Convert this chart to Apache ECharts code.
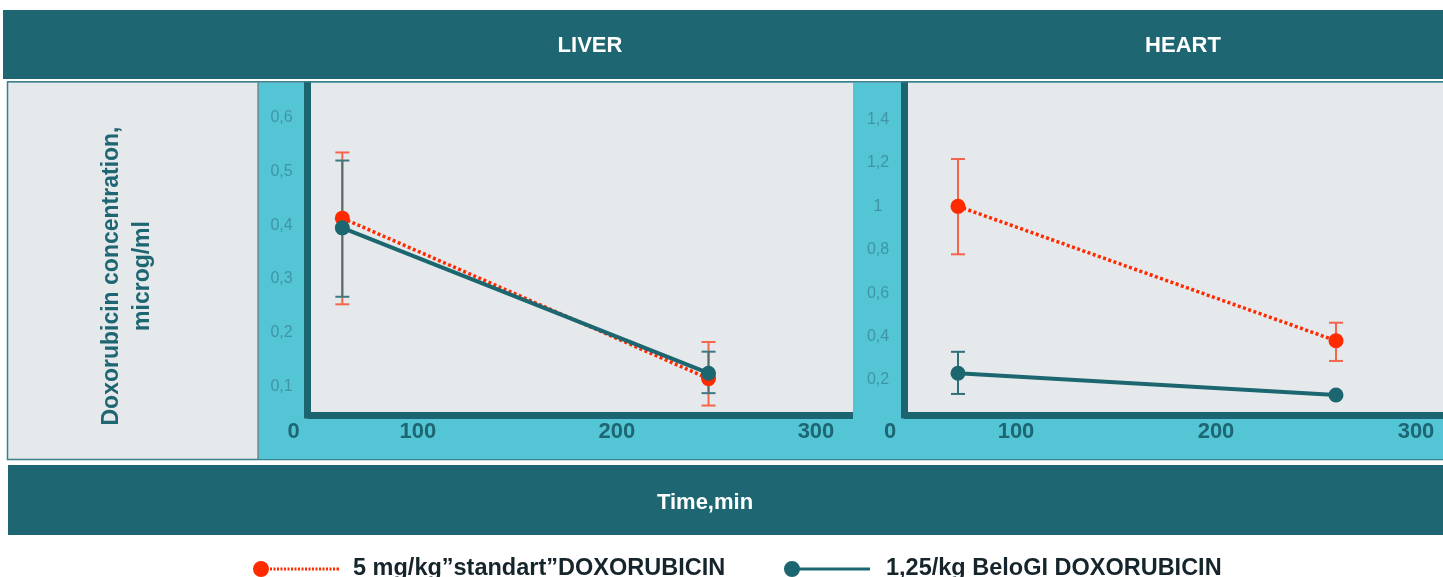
<!DOCTYPE html>
<html>
<head>
<meta charset="utf-8">
<script src="https://cdn.jsdelivr.net/npm/echarts@6/dist/echarts.min.js"></script>
<style>
html,body{margin:0;padding:0;background:#ffffff;}
#chart{width:1443px;height:577px;}
</style>
</head>
<body>
<div id="chart"></div>
<script>
// ---- data ----
const panelTitles = ['LIVER', 'HEART'];
const seriesNames = ['5 mg/kg\u201dstandart\u201dDOXORUBICIN', '1,25/kg BeloGI DOXORUBICIN'];
const xTitle = 'Time,min';
const yTitle = 'Doxorubicin concentration,\nmicrog/ml';

const liverTimes = [62, 246];
const liverStandard = [0.413, 0.115];
const liverStandardLow = [0.253, 0.065];
const liverStandardHigh = [0.535, 0.183];
const liverBelo = [0.395, 0.125];
const liverBeloLow = [0.267, 0.088];
const liverBeloHigh = [0.520, 0.165];

const heartTimes = [71, 260];
const heartStandard = [1.0, 0.381];
const heartStandardLow = [0.779, 0.288];
const heartStandardHigh = [1.218, 0.464];
const heartBelo = [0.231, 0.131];
const heartBeloLow = [0.136, null];
const heartBeloHigh = [0.330, null];

const xTickValues = [100, 200, 300];
const liverYTicks = [0.1, 0.2, 0.3, 0.4, 0.5, 0.6];
const heartYTicks = [0.2, 0.4, 0.6, 0.8, 1.0, 1.2, 1.4];

// ---- styles ----
const FONT = '"Liberation Sans", Arial, Helvetica, sans-serif';
const DARK = '#1e6672';
const AXIS = '#1c6470';
const CYAN = '#53c5d5';
const PLOTBG = '#e5e9eb';
const RED = '#ff2a00';
const RED_ERR = '#f5654c';
const TEAL = '#1c6670';

const liverX = {min: 44.5, max: 318.6};
const heartX = {min: 44, max: 313.5};
const liverY = {min: 0.0474, max: 0.664};
const heartY = {min: 0.039, max: 1.568};

function pts(times, vals) { return times.map((t, i) => [t, vals[i]]); }
function errs(times, lo, hi) {
  return times.map((t, i) => [t, lo[i], hi[i]]).filter(d => d[1] != null && d[2] != null);
}
function errRender(color, capColor) {
  return function (params, api) {
    const x = api.value(0), lo = api.value(1), hi = api.value(2);
    const a = api.coord([x, lo]), b = api.coord([x, hi]);
    const hw = 7;
    return {
      type: 'group',
      children: [
        {type: 'line', shape: {x1: a[0], y1: a[1], x2: b[0], y2: b[1]}, style: {stroke: color, lineWidth: 2}},
        {type: 'line', shape: {x1: b[0] - hw, y1: b[1], x2: b[0] + hw, y2: b[1]}, style: {stroke: capColor, lineWidth: 2}},
        {type: 'line', shape: {x1: a[0] - hw, y1: a[1], x2: a[0] + hw, y2: a[1]}, style: {stroke: capColor, lineWidth: 2}}
      ]
    };
  };
}

function xAxisDef(gridIndex, range) {
  return {
    type: 'value', gridIndex: gridIndex, min: range.min, max: range.max,
    axisLine: {show: true, onZero: false, lineStyle: {color: AXIS, width: 7, cap: 'butt'}},
    axisTick: {show: false},
    splitLine: {show: false},
    axisLabel: {
      customValues: [range.min].concat(xTickValues),
      formatter: v => (v < xTickValues[0] ? '{z|0}' : String(v)),
      color: DARK, fontFamily: FONT, fontSize: 22, fontWeight: 'bold', margin: 6,
      rich: {z: {color: DARK, fontFamily: FONT, fontSize: 22, fontWeight: 'bold', padding: [0, 28, 0, 0]}}
    }
  };
}
function yAxisDef(gridIndex, range, ticks) {
  return {
    type: 'value', gridIndex: gridIndex, min: range.min, max: range.max,
    axisLine: {show: true, onZero: false, lineStyle: {color: AXIS, width: 7, cap: 'square'}},
    axisTick: {show: false},
    splitLine: {show: false},
    axisLabel: {
      customValues: ticks,
      formatter: v => String(+v.toFixed(2)).replace('.', ','),
      color: '#3f95a5', fontFamily: FONT, fontSize: 16, align: 'center', margin: 26
    }
  };
}

function lineSeries(name, idx, data, isStd) {
  return {
    type: 'line', name: name, xAxisIndex: idx, yAxisIndex: idx, data: data,
    symbol: 'circle', symbolSize: 15, z: isStd ? 3 : 4,
    itemStyle: {color: isStd ? RED : TEAL},
    lineStyle: isStd ? {color: RED, width: 3.5, type: [3, 2.5]} : {color: TEAL, width: 4},
    emphasis: {disabled: true}
  };
}
function errSeries(idx, data, color, capColor) {
  return {
    type: 'custom', xAxisIndex: idx, yAxisIndex: idx, data: data, z: 2,
    encode: {x: 0, y: [1, 2]},
    renderItem: errRender(color, capColor), silent: true
  };
}

// legend icons
function redIcon() {
  let p = 'M0,8 A8,8 0 1,1 16,8 A8,8 0 1,1 0,8 Z ';
  for (let x = 17; x + 2 <= 86.01; x += 3.5) {
    p += 'M' + x + ',6.5 L' + (x + 2) + ',6.5 L' + (x + 2) + ',9.5 L' + x + ',9.5 Z ';
  }
  p += 'M84,6.5 L86,6.5 L86,9.5 L84,9.5 Z';
  return 'path://' + p;
}
const tealIcon = 'path://M0,8 A8,8 0 1,1 16,8 A8,8 0 1,1 0,8 Z M12,6.5 L86,6.5 L86,9.5 L12,9.5 Z';

const chart = echarts.init(document.getElementById('chart'), null, {renderer: 'canvas'});
const option = {
  animation: false,
  backgroundColor: '#ffffff',
  graphic: [
    {type: 'rect', z: -10, shape: {x: 3, y: 10, width: 1440, height: 69}, style: {fill: DARK}},
    {type: 'rect', z: -10, shape: {x: 7.5, y: 81.5, width: 1440, height: 378}, style: {fill: PLOTBG, stroke: '#3a7f8a', lineWidth: 1.5}},
    {type: 'rect', z: -9, shape: {x: 259, y: 82.5, width: 1184, height: 376.5}, style: {fill: CYAN}},
    {type: 'rect', z: -9, shape: {x: 257.5, y: 82.5, width: 1.2, height: 376.5}, style: {fill: '#2f6e78'}},
    {type: 'rect', z: -10, shape: {x: 8, y: 465, width: 1435, height: 70}, style: {fill: DARK}},
    // top edge of middle frame drawn above the axis line caps
    {type: 'rect', z: 20, shape: {x: 3, y: 79, width: 1440, height: 2}, style: {fill: '#ffffff'}},
    {type: 'rect', z: 20, shape: {x: 7, y: 81, width: 1436, height: 1.5}, style: {fill: '#3a7f8a'}},
    {type: 'text', z: 10, x: 590, y: 46, style: {text: panelTitles[0], fill: '#ffffff', font: 'bold 22px ' + FONT, textAlign: 'center', textVerticalAlign: 'middle'}},
    {type: 'text', z: 10, x: 1183, y: 46, style: {text: panelTitles[1], fill: '#ffffff', font: 'bold 22px ' + FONT, textAlign: 'center', textVerticalAlign: 'middle'}},
    {type: 'text', z: 10, x: 705, y: 503, style: {text: xTitle, fill: '#ffffff', font: 'bold 22px ' + FONT, textAlign: 'center', textVerticalAlign: 'middle'}},
    {type: 'text', z: 10, x: 127, y: 276, rotation: Math.PI / 2,
     style: {text: yTitle, fill: DARK, font: 'bold 23px ' + FONT, textAlign: 'center', textVerticalAlign: 'middle', lineHeight: 31}}
  ],
  grid: [
    {left: 307.5, top: 83, width: 545.5, height: 332, show: true, backgroundColor: PLOTBG, borderWidth: 0},
    {left: 904, top: 83, width: 539, height: 332, show: true, backgroundColor: PLOTBG, borderWidth: 0}
  ],
  xAxis: [xAxisDef(0, liverX), xAxisDef(1, heartX)],
  yAxis: [yAxisDef(0, liverY, liverYTicks), yAxisDef(1, heartY, heartYTicks)],
  legend: [
    {
      data: [{name: seriesNames[0], icon: redIcon(), itemStyle: {color: RED, borderWidth: 0}}],
      left: 253, top: 557, padding: 0, itemWidth: 86, itemHeight: 16, selectedMode: false,
      textStyle: {color: '#15252b', fontFamily: FONT, fontSize: 23.5, fontWeight: 'bold', padding: [0, 0, 0, 9]}
    },
    {
      data: [{name: seriesNames[1], icon: tealIcon, itemStyle: {color: TEAL, borderWidth: 0}}],
      left: 784, top: 557, padding: 0, itemWidth: 86, itemHeight: 16, selectedMode: false,
      textStyle: {color: '#15252b', fontFamily: FONT, fontSize: 23.5, fontWeight: 'bold', padding: [0, 0, 0, 11]}
    }
  ],
  series: [
    errSeries(0, errs(liverTimes, liverStandardLow, liverStandardHigh), RED_ERR, RED_ERR),
    errSeries(0, errs(liverTimes, liverBeloLow, liverBeloHigh), '#5d6a6c', '#3f7780'),
    lineSeries(seriesNames[0], 0, pts(liverTimes, liverStandard), true),
    lineSeries(seriesNames[1], 0, pts(liverTimes, liverBelo), false),
    errSeries(1, errs(heartTimes, heartStandardLow, heartStandardHigh), RED_ERR, RED_ERR),
    errSeries(1, errs(heartTimes, heartBeloLow, heartBeloHigh), '#2f6f79', '#2f6f79'),
    lineSeries(seriesNames[0], 1, pts(heartTimes, heartStandard), true),
    lineSeries(seriesNames[1], 1, pts(heartTimes, heartBelo), false)
  ]
};
chart.setOption(option);
</script>
</body>
</html>
